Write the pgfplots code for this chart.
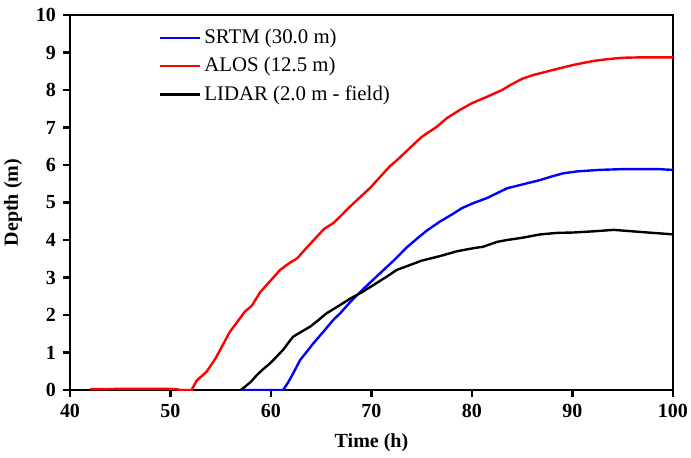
\documentclass[border=0pt]{standalone}
\usepackage{fontspec}
\setmainfont{Liberation Serif}
\usepackage{pgfplots}
\pgfplotsset{compat=1.18}

\begin{document}
\fontsize{10}{12}\selectfont
\begin{tikzpicture}
\begin{axis}[
  scale only axis, width=301.5pt, height=187.5pt,
  xmin=40, xmax=100, ymin=0, ymax=10,
  xtick={40,50,...,100}, ytick={0,1,...,10},
  tick align=outside, tick pos=left,
  major tick length=3.5pt,
  /pgf/number format/assume math mode=true,
  tick label style={font=\fontsize{10}{12}\selectfont\bfseries},
  label style={font=\fontsize{10}{12}\selectfont\bfseries},
  xlabel={Time (h)}, ylabel={Depth (m)},
  xlabel style={yshift=-1pt},
  ylabel style={yshift=0pt},
  axis line style={line width=1.3pt},
  every tick/.style={line width=1.3pt, black},
  legend style={at={(0.137,0.985)}, anchor=north west, draw=none, fill=none,
    font=\fontsize{10.4}{12}\selectfont, row sep=1.4pt,
    nodes={inner xsep=1.5pt}},
  legend cell align=left,
  legend image code/.code={\draw[#1] (0pt,0pt) -- (20pt,0pt);},
]
\addplot[blue, line width=1.2pt] coordinates {
(57,0) (61.2,0) (61.7,0.2) (62.2,0.44) (62.9,0.8) (63.5,1.0) (64.2,1.24)
(65.2,1.55) (66.2,1.87) (66.9,2.05) (67.9,2.35) (68.9,2.62) (70,2.9) (71,3.15)
(72.2,3.45) (73.5,3.8) (74.5,4.03) (75.5,4.25) (76.8,4.49) (78,4.68) (79,4.85)
(80.1,4.98) (81.5,5.12) (82.5,5.25) (83.5,5.38) (85,5.48) (86.8,5.6) (88,5.7)
(89.1,5.78) (90.5,5.83) (92.7,5.87) (95,5.89) (96.7,5.89) (98.5,5.89) (100,5.87)
};
\addlegendentry{SRTM (30.0 m)}
\addplot[red, line width=1.2pt] coordinates {
(42,0.02) (45,0.03) (48,0.03) (50,0.03) (50.6,0.02) (51,0) (52.1,0) (52.6,0.25)
(53.6,0.49) (54.5,0.85) (55.2,1.2) (55.9,1.55) (56.6,1.8) (57.4,2.09) (58.1,2.25)
(58.9,2.6) (59.9,2.9) (60.9,3.2) (61.8,3.38) (62.6,3.51) (63.5,3.78) (64.5,4.07)
(65.3,4.3) (66.2,4.45) (66.9,4.63) (67.9,4.9) (69.9,5.4) (71.8,5.96) (72.5,6.12)
(74,6.5) (75,6.75) (76.5,7.02) (77.5,7.25) (78.8,7.47) (80,7.65) (81.5,7.82)
(83,8.0) (83.8,8.13) (85,8.3) (86.1,8.4) (88,8.53) (90.1,8.67) (92,8.77)
(93.4,8.82) (95,8.86) (96.7,8.87) (100,8.87)
};
\addlegendentry{ALOS (12.5 m)}
\addplot[black, line width=1.2pt] coordinates {
(57,0) (57.2,0.04) (58,0.22) (58.6,0.4) (59.2,0.55) (59.9,0.71) (60.6,0.9)
(61.2,1.07) (61.7,1.25) (62.2,1.42) (63,1.55) (63.9,1.69) (64.7,1.86) (65.5,2.04)
(66.9,2.27) (67.9,2.44) (69,2.6) (70.2,2.8) (71.5,3.02) (72.5,3.2) (73.5,3.3)
(75,3.45) (76.8,3.57) (78.5,3.7) (80.1,3.78) (81.1,3.82) (82.5,3.95) (83.5,4.0)
(85,4.06) (86.8,4.15) (88.5,4.19) (90.1,4.2) (92,4.23) (94.1,4.27) (97,4.21)
(100,4.15)
};
\addlegendentry{LIDAR (2.0 m - field)}
\end{axis}
\pgfresetboundingbox
\path (-35pt,-33.5pt) rectangle (310.5pt,195pt);
\end{tikzpicture}
\end{document}
